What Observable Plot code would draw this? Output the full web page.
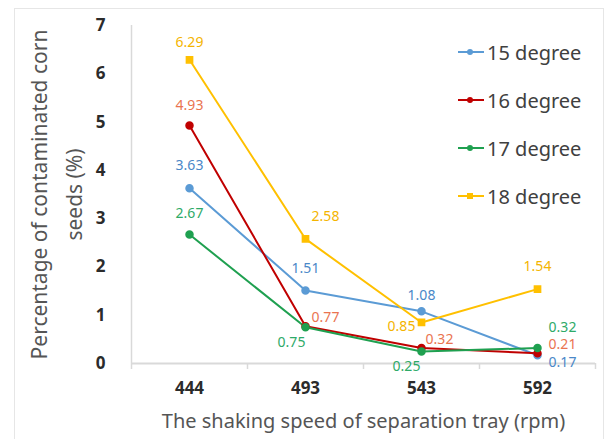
<!DOCTYPE html>
<html>
<head>
<meta charset="utf-8">
<script src="https://cdn.jsdelivr.net/npm/d3@7"></script>
<script src="https://cdn.jsdelivr.net/npm/@observablehq/plot@0.6"></script>
<style>
  html, body { margin: 0; padding: 0; background: #fff; }
  #wrap { position: relative; width: 613px; height: 439px; overflow: hidden; font-family: "Noto Sans", "DejaVu Sans", sans-serif; }
  #frame { position: absolute; left: 14px; top: 8px; width: 590px; height: 440px; border: 1px solid #e6e6e6; box-sizing: border-box; }
  #chart { position: absolute; left: 0; top: 0; }
  #legend { position: absolute; left: 458px; top: 28px; }
  .item { display: flex; align-items: center; height: 48px; font-size: 20px; color: #404040; }
  .item svg { margin-right: 3px; }
</style>
</head>
<body>
<div id="wrap"><div id="frame"></div><div id="chart"></div><div id="legend"></div></div>
<script>
// ---- data ----
const speeds = ["444", "493", "543", "592"];
const seriesNames = ["15 degree", "16 degree", "17 degree", "18 degree"];
const deg15 = [3.63, 1.51, 1.08, 0.17];
const deg16 = [4.93, 0.77, 0.32, 0.21];
const deg17 = [2.67, 0.75, 0.25, 0.32];
const deg18 = [6.29, 2.58, 0.85, 1.54];
const yTicks = [0, 1, 2, 3, 4, 5, 6, 7];

// ---- styling ----
const lineColors = ["#5b9bd5", "#c00000", "#1fa050", "#ffc000"];
const labelColors = ["#4a88c8", "#ea7450", "#2eaa68", "#f4b400"];
const symbols = ["circle", "circle", "circle", "square"];
// label offsets [dx, dy] per series per point (layout only)
const labelOffsets = [
  [[0, -23], [0, -22], [0, -16], [25, 7]],
  [[0, -20], [20, -9], [18, -9], [25, -9]],
  [[0, -21], [-14, 15], [-15, 15], [25, -21]],
  [[0, -17], [20, -22], [-20, 4], [0, -23]]
];

const valuesBySeries = [deg15, deg16, deg17, deg18];
const rows = [];
valuesBySeries.forEach((vals, s) => vals.forEach((v, i) => rows.push({
  series: seriesNames[s], s, i, value: v,
  dx: labelOffsets[s][i][0], dy: labelOffsets[s][i][1]
})));

const xDomain = [-0.5, speeds.length - 0.5];
const marks = [
  Plot.ruleX([xDomain[0]], {y1: 0, y2: 7, stroke: "#d9d9d9", strokeWidth: 1.5}),
  Plot.ruleY([0], {stroke: "#d9d9d9", strokeWidth: 2}),
  Plot.axisX({ticks: d3.range(speeds.length + 1).map(i => i - 0.5), tickFormat: () => "", tickSize: 6, stroke: "#d9d9d9", strokeWidth: 1.5, label: null}),
  Plot.axisX({ticks: d3.range(speeds.length), tickFormat: i => speeds[i], tickSize: 0, tickPadding: 18, fontSize: 17, fontWeight: "bold", fill: "#2b2b2b", label: null}),
  Plot.axisY({ticks: yTicks, tickFormat: d => String(d), tickSize: 0, tickPadding: 26, fontSize: 17, fontWeight: "bold", fill: "#2b2b2b", label: null}),
  Plot.text(["The shaking speed of separation tray (rpm)"], {frameAnchor: "bottom", dy: 64, fontSize: 20, fill: "#555"}),
  Plot.text(["Percentage of contaminated corn"], {frameAnchor: "left", textAnchor: "middle", dx: -91, rotate: -90, fontSize: 21, fill: "#555"}),
  Plot.text(["seeds (%)"], {frameAnchor: "left", textAnchor: "middle", dx: -56, rotate: -90, fontSize: 21, fill: "#555"})
];
seriesNames.forEach((name, s) => {
  const d = rows.filter(r => r.s === s);
  marks.push(Plot.line(d, {x: "i", y: "value", stroke: lineColors[s], strokeWidth: 2}));
});
seriesNames.forEach((name, s) => {
  const d = rows.filter(r => r.s === s);
  marks.push(Plot.dot(d, {x: "i", y: "value", fill: lineColors[s], stroke: lineColors[s], r: 3.5, symbol: symbols[s]}));
});
seriesNames.forEach((name, s) => {
  const d = rows.filter(r => r.s === s);
  d.forEach(r => marks.push(Plot.text([r], {x: "i", y: "value", text: r => r.value.toFixed(2), dx: r.dx, dy: r.dy, fill: labelColors[s], fontSize: 14})));
});

const chart = Plot.plot({
  width: 613,
  height: 439,
  marginLeft: 131,
  marginRight: 18,
  marginTop: 25,
  marginBottom: 76,
  style: {fontFamily: "'Noto Sans', 'DejaVu Sans', sans-serif", background: "transparent"},
  x: {domain: xDomain, axis: null},
  y: {domain: [0, 7], axis: null},
  marks
});
document.getElementById("chart").appendChild(chart);

// legend
const legend = document.getElementById("legend");
seriesNames.forEach((name, s) => {
  const item = document.createElement("div");
  item.className = "item";
  const sym = symbols[s] === "square"
    ? `<rect x="9" y="4" width="6" height="6" fill="${lineColors[s]}"/>`
    : `<circle cx="12" cy="7" r="3" fill="${lineColors[s]}"/>`;
  item.innerHTML = `<svg width="26" height="14"><line x1="0" x2="26" y1="7" y2="7" stroke="${lineColors[s]}" stroke-width="2"/>${sym}</svg><span>${name}</span>`;
  legend.appendChild(item);
});
</script>
</body>
</html>
